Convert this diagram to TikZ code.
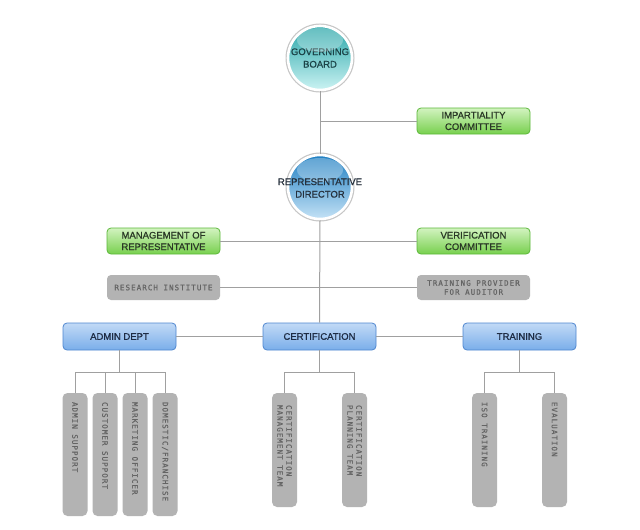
\documentclass[tikz,border=0pt]{standalone}
\usepackage{fontspec}
\setmainfont[FakeBold=0.8]{Liberation Sans}
\newfontfamily\pix[LetterSpace=14,FakeBold=0.6]{DejaVu Sans Mono}
\definecolor{conncol}{HTML}{A0A0A0}
\definecolor{grbord}{HTML}{5CB83A}
\definecolor{grtop}{HTML}{D2F3C0}
\definecolor{grbot}{HTML}{78D04E}
\definecolor{grtext}{HTML}{2A3826}
\definecolor{blbord}{HTML}{4F86CF}
\definecolor{bltop}{HTML}{C2DAF6}
\definecolor{blbot}{HTML}{7AAEEA}
\definecolor{bltext}{HTML}{1E2C44}
\definecolor{gyfill}{HTML}{B3B3B3}
\definecolor{gytext}{HTML}{646464}
\definecolor{tealtop}{HTML}{27A5A8}
\definecolor{tealbot}{HTML}{CBF3F3}
\definecolor{tealtext}{HTML}{1B4246}
\definecolor{bluetop}{HTML}{1F7FC2}
\definecolor{bluebot}{HTML}{C4E2F6}
\definecolor{bluetext}{HTML}{25303C}
\begin{document}
\begin{tikzpicture}[x=1pt,y=-1pt,
  conn/.style={draw=conncol, line width=1pt},
  ball/.style={circle, minimum size=64pt, inner sep=0pt, align=center,
    font=\fontsize{9.5}{12.5}\selectfont,
    preaction={draw=black!22, line width=5pt},
    draw=white, line width=2.6pt},
  gbox/.style={draw=grbord, line width=0.8pt, rounded corners=4pt, top color=grtop, bottom color=grbot,
    minimum width=113pt, minimum height=26pt, inner sep=0pt, align=center,
    font=\fontsize{9.5}{11.5}\selectfont, text=grtext},
  bbox/.style={draw=blbord, line width=0.8pt, rounded corners=4pt, top color=bltop, bottom color=blbot,
    minimum width=113pt, minimum height=27pt, inner sep=0pt, align=center,
    font=\fontsize{9.5}{11}\selectfont, text=bltext},
  hgray/.style={fill=gyfill, rounded corners=4pt, minimum width=113pt, minimum height=25pt,
    inner sep=0pt, align=center, font=\pix\fontsize{7.5}{9}\selectfont, text=gytext},
  vgray/.style={fill=gyfill, rounded corners=5pt, minimum width=25pt, inner sep=0pt},
  vtext/.style={rotate=-90, anchor=west, align=left, inner sep=0pt,
    font=\pix\fontsize{7.5}{9}\selectfont, text=gytext},
]
\useasboundingbox (0,0) rectangle (640,530);
\fill[white] (0,0) rectangle (640,530);

% circles
\node[ball, top color=tealtop, bottom color=tealbot, text=tealtext] (gb) at (320,58) {GOVERNING\\BOARD};
\fill[white, opacity=0.28] (320,40) ellipse [x radius=23, y radius=12];
\node[ball, top color=bluetop, bottom color=bluebot, text=bluetext] (rd) at (320,187) {};
\fill[white, opacity=0.28] (320,170) ellipse [x radius=23, y radius=12];
\node[font=\fontsize{9.5}{12.5}\selectfont, text=bluetext, align=center, inner sep=0pt] (rdt) at (320,188) {REPRESENTATIVE\\DIRECTOR};

% side boxes
\node[gbox] (imp) at (473.5,121) {IMPARTIALITY\\COMMITTEE};
\node[gbox] (mgmt) at (163.5,241) {MANAGEMENT OF\\REPRESENTATIVE};
\node[gbox] (ver) at (473.5,241) {VERIFICATION\\COMMITTEE};
\node[hgray] (res) at (163.5,287.5) {RESEARCH INSTITUTE};
\node[hgray] (tp) at (473.5,287.5) {TRAINING PROVIDER\\FOR AUDITOR};

% departments
\node[bbox] (adm) at (119.5,336.5) {ADMIN DEPT};
\node[bbox] (cert) at (319.5,336.5) {CERTIFICATION};
\node[bbox] (trn) at (519.5,336.5) {TRAINING};

% admin children
\node[vgray, minimum height=123pt] (a1) at (75,454.5) {};
\node[vgray, minimum height=123pt] (a2) at (105,454.5) {};
\node[vgray, minimum height=123pt] (a3) at (135,454.5) {};
\node[vgray, minimum height=123pt] (a4) at (165,454.5) {};
\node[vtext] (a1t) at ([yshift=-9pt]a1.north) {ADMIN SUPPORT};
\node[vtext] (a2t) at ([yshift=-9pt]a2.north) {CUSTOMER SUPPORT};
\node[vtext] (a3t) at ([yshift=-9pt]a3.north) {MARKETING OFFICER};
\node[vtext] (a4t) at ([yshift=-9pt]a4.north) {DOMESTIC/FRANCHISE};

% certification children
\node[vgray, minimum height=114pt] (c1) at (284.5,450) {};
\node[vgray, minimum height=114pt] (c2) at (354.5,450) {};
\node[vtext] (c1t) at ([yshift=-12pt]c1.north) {CERTIFICATION\\MANAGEMENT TEAM};
\node[vtext] (c2t) at ([yshift=-12pt]c2.north) {CERTIFICATION\\PLANNING TEAM};

% training children
\node[vgray, minimum height=114pt] (t1) at (484.5,450) {};
\node[vgray, minimum height=114pt] (t2) at (554.5,450) {};
\node[vtext] (t1t) at ([yshift=-9pt]t1.north) {ISO TRAINING};
\node[vtext] (t2t) at ([yshift=-9pt]t2.north) {EVALUATION};

% connectors
\coordinate (jy) at (0,372);
\draw[conn] (gb.south) -- (rd.north);
\draw[conn] (rd.south) -- (cert.north);
\draw[conn] (imp.west) -- (imp.west -| gb.south);
\draw[conn] (mgmt.east) -- (ver.west);
\draw[conn] (res.east) -- (tp.west);
\draw[conn] (adm.east) -- (cert.west);
\draw[conn] (cert.east) -- (trn.west);

\draw[conn] (adm.south) -- (adm.south |- jy);
\draw[conn] (a1.north) -- (a1.north |- jy) -- (a4.north |- jy) -- (a4.north);
\draw[conn] (a2.north) -- (a2.north |- jy);
\draw[conn] (a3.north) -- (a3.north |- jy);

\draw[conn] (cert.south) -- (cert.south |- jy);
\draw[conn] (c1.north) -- (c1.north |- jy) -- (c2.north |- jy) -- (c2.north);

\draw[conn] (trn.south) -- (trn.south |- jy);
\draw[conn] (t1.north) -- (t1.north |- jy) -- (t2.north |- jy) -- (t2.north);
\end{tikzpicture}
\end{document}
